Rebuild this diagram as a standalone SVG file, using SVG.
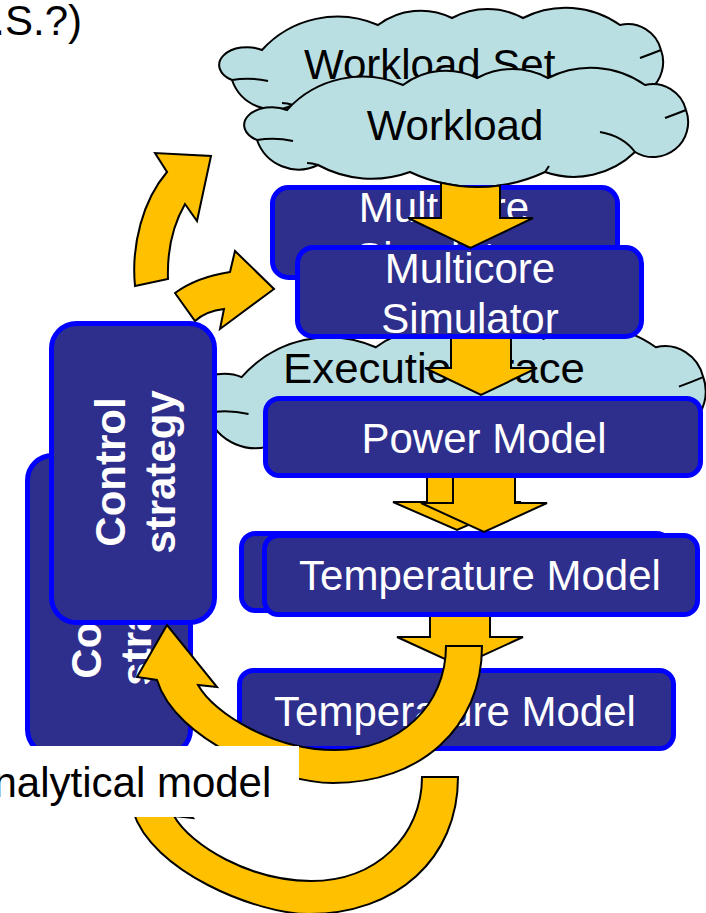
<svg xmlns="http://www.w3.org/2000/svg" width="706" height="913" viewBox="0 0 706 913">
<style>
  .box{fill:#2E2E8C;stroke:#0000FF;stroke-width:5}
  .t{font-family:"Liberation Sans",Arial,Helvetica,sans-serif;font-size:42px}
  .w{fill:#FFFFFF}
  .k{fill:#000000}
  .vt{font-family:"Liberation Sans",Arial,Helvetica,sans-serif;font-size:42px;font-weight:bold;fill:#FFFFFF}
  .ar{fill:#FFC000;stroke:#000000;stroke-width:2;stroke-linejoin:miter}
</style>
<defs>
  <!-- cloud outline in a 452x119 local frame, plus its inner fold strokes -->
  <g id="cloud">
    <path fill="#B9DFE3" stroke="#000" stroke-width="2" vector-effect="non-scaling-stroke" d="M42 42A102 102 0 0 1 158 17A71 71 0 0 1 232 10A74.5 74.5 0 0 1 303 10A94 94 0 0 1 400 17A34 34 0 0 1 441 42A35 35 0 0 1 390 84A88 88 0 0 1 300 104A159 159 0 0 1 165 104A112 112 0 0 1 73 97A44 44 0 0 1 12 72A25 16 0 0 1 42 42Z"/>
    <path fill="none" stroke="#000" stroke-width="2" vector-effect="non-scaling-stroke" d="M12 72Q30 69 48 73M441 42Q431 46 420 50M390 84Q378 68 355 64M73 97Q67 95 62 95M300 104Q302 101 304 98"/>
  </g>
</defs>

<text class="t k" x="82" y="35" text-anchor="end" font-size="40">.S.?)</text>

<g id="node-workload-set">
  <use href="#cloud" transform="translate(220,8)"/>
  <text class="t k" x="304" y="79">Workload Set</text>
</g>
<g id="node-workload">
  <use href="#cloud" transform="translate(245,68)"/>
  <text class="t k" x="455" y="140" text-anchor="middle">Workload</text>
</g>
<g id="node-execution-trace">
  <use href="#cloud" transform="translate(193,327) scale(1.157,1.193)"/>
  <text class="t k" x="283" y="383" textLength="302" lengthAdjust="spacingAndGlyphs">Execution trace</text>
</g>
<g id="node-simulator-back">
  <rect class="box" x="272.5" y="187.5" width="345" height="90" rx="16"/>
  <text class="t w" text-anchor="middle"><tspan x="444" y="222">Multicore</tspan><tspan x="444" y="272">Simulator</tspan></text>
</g>
<g id="node-simulator">
  <rect class="box" x="297.5" y="247.5" width="344" height="89" rx="16"/>
  <text class="t w" text-anchor="middle"><tspan x="470" y="283">Multicore</tspan><tspan x="470" y="333">Simulator</tspan></text>
</g>
<g id="node-power">
  <rect class="box" x="265.5" y="398.5" width="435" height="77" rx="14"/>
  <text class="t w" x="484" y="453" text-anchor="middle">Power Model</text>
</g>
<g id="node-temperature-back">
  <rect class="box" x="241.5" y="533.5" width="429" height="77" rx="14"/>
</g>
<g id="node-temperature">
  <rect class="box" x="264.5" y="535.5" width="433" height="79" rx="14"/>
  <text class="t w" x="480" y="590" text-anchor="middle">Temperature Model</text>
</g>
<g id="node-temperature-lower">
  <rect class="box" x="239.5" y="670.5" width="434" height="78" rx="14"/>
  <text class="t w" x="455" y="726" text-anchor="middle">Temperature Model</text>
</g>
<g id="node-control-back">
  <rect class="box" x="27.5" y="455.5" width="163" height="299" rx="25"/>
  <text class="vt" text-anchor="middle" transform="translate(101,604) rotate(-90)">Control</text>
  <text class="vt" text-anchor="middle" transform="translate(151,604) rotate(-90)">strategy</text>
</g>
<g id="node-control">
  <rect class="box" x="51.5" y="323.5" width="163" height="299" rx="25"/>
  <text class="vt" text-anchor="middle" transform="translate(125,472) rotate(-90)">Control</text>
  <text class="vt" text-anchor="middle" transform="translate(175,472) rotate(-90)">strategy</text>
</g>

<g id="connectors">
  <!-- straight block arrows down the flow (open at the top edge) -->
  <path class="ar" d="M441 182.8A159 159 0 0 0 500 185.4L500 218L533 218L470.5 248L408 218L441 218Z"/>
  <path class="ar" d="M511 339L511 368L537 368L481 395L425 368L451 368L451 339"/>
  <path class="ar" d="M489 478L489 502L521 502L457 530L393 502L427 502L427 478"/>
  <path class="ar" d="M515 478L515 503L547 503L484 532L421 503L453 503L453 478"/>
  <path class="ar" d="M490 617L490 637L523 637L460 666L397 637L430 637L430 617"/>
  <!-- curved arrows on the left -->
  <path class="ar" d="M135 286C131 245 143 200 167 172L155 153L211 156L197 221L185 204C173 225 167 250 168 279Z"/>
  <path class="ar" d="M175 293Q197 277 230 272L235 251L274 289L220 329L224 309Q206 311 195 321Z"/>
  <!-- feedback U-turns, the lower one a shifted copy -->
  <path class="ar" d="M446 646L482 646C482 728 420 783 333 783C280 783 175 740 157 680L137 677L167 625L217 687L198 685C215 715 275 750 335 750C400 750 446 705 446 646Z"/>
  <path class="ar" transform="translate(-24,131)" d="M446 646L482 646C482 728 420 783 333 783C280 783 175 740 157 680L137 677L167 625L217 687L198 685C215 715 275 750 335 750C400 750 446 705 446 646Z"/>
</g>

<g id="node-analytical">
  <rect x="0" y="746" width="299" height="71" fill="#FFFFFF"/>
  <text class="t k" x="-6.5" y="797">nalytical model</text>
</g>
</svg>
